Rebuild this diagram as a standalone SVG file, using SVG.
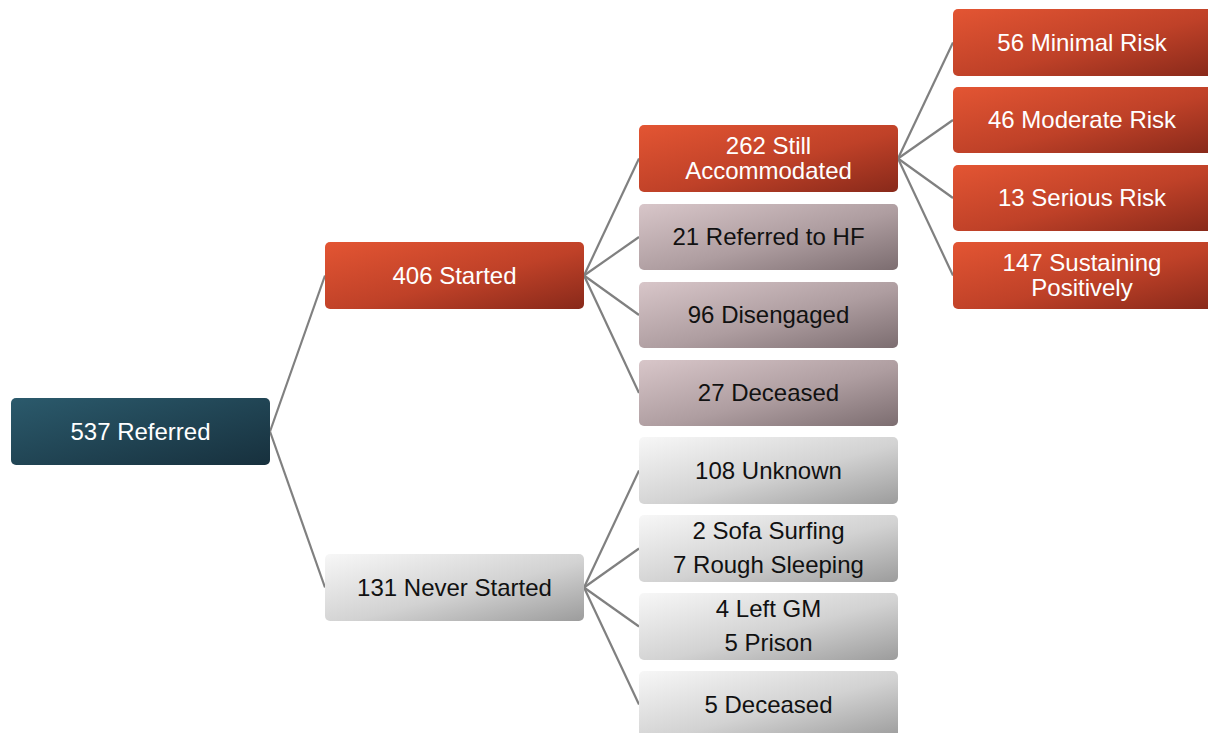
<svg xmlns="http://www.w3.org/2000/svg" width="1208" height="733" viewBox="0 0 1208 733">
  <defs>
    <linearGradient id="gTeal" x1="0" y1="0" x2="1" y2="1">
      <stop offset="0" stop-color="#2B5A6C"/>
      <stop offset="1" stop-color="#17303D"/>
    </linearGradient>
    <linearGradient id="gOrange" x1="0" y1="0" x2="1" y2="1">
      <stop offset="0" stop-color="#E35533"/>
      <stop offset="0.55" stop-color="#BF4128"/>
      <stop offset="1" stop-color="#88291A"/>
    </linearGradient>
    <linearGradient id="gMauve" x1="0" y1="0" x2="1" y2="1">
      <stop offset="0" stop-color="#D8C6C9"/>
      <stop offset="0.55" stop-color="#AE9DA0"/>
      <stop offset="1" stop-color="#7C6D70"/>
    </linearGradient>
    <linearGradient id="gGrey" x1="0" y1="0" x2="1" y2="1">
      <stop offset="0" stop-color="#F7F7F7"/>
      <stop offset="0.55" stop-color="#D2D2D2"/>
      <stop offset="1" stop-color="#9C9C9C"/>
    </linearGradient>
  </defs>
  <style>
    .box { stroke: none; }
    .teal { fill: url(#gTeal); }
    .orange { fill: url(#gOrange); }
    .mauve { fill: url(#gMauve); }
    .grey { fill: url(#gGrey); }
    text { font-family: "Liberation Sans", Arial, sans-serif; font-size: 24px; text-anchor: middle; }
    .light { fill: #FFFFFF; }
    .dark { fill: #111111; }
    .link { stroke: #808080; stroke-width: 2.2; fill: none; }
  </style>

  <g id="connectors">
    <!-- 537 Referred -> level 2 -->
    <line class="link" x1="270" y1="431.5" x2="325" y2="275.5"/>
    <line class="link" x1="270" y1="431.5" x2="325" y2="587.5"/>
    <!-- 406 Started -> outcomes -->
    <line class="link" x1="584" y1="275.5" x2="639" y2="158.5"/>
    <line class="link" x1="584" y1="275.5" x2="639" y2="237"/>
    <line class="link" x1="584" y1="275.5" x2="639" y2="315"/>
    <line class="link" x1="584" y1="275.5" x2="639" y2="393"/>
    <!-- 131 Never Started -> outcomes -->
    <line class="link" x1="584" y1="587.5" x2="639" y2="470.5"/>
    <line class="link" x1="584" y1="587.5" x2="639" y2="548.5"/>
    <line class="link" x1="584" y1="587.5" x2="639" y2="626.5"/>
    <line class="link" x1="584" y1="587.5" x2="639" y2="704.5"/>
    <!-- 262 Still Accommodated -> risk levels -->
    <line class="link" x1="898" y1="158.5" x2="953" y2="42.5"/>
    <line class="link" x1="898" y1="158.5" x2="953" y2="120"/>
    <line class="link" x1="898" y1="158.5" x2="953" y2="198"/>
    <line class="link" x1="898" y1="158.5" x2="953" y2="275.5"/>
  </g>

  <g id="n537">
    <rect class="box teal" x="11" y="398" width="259" height="67" rx="5"/>
    <text class="light" x="140.5" y="440">537 Referred</text>
  </g>

  <g id="n406">
    <rect class="box orange" x="325" y="242" width="259" height="67" rx="5"/>
    <text class="light" x="454.5" y="284">406 Started</text>
  </g>
  <g id="n131">
    <rect class="box grey" x="325" y="554" width="259" height="67" rx="5"/>
    <text class="dark" x="454.5" y="596">131 Never Started</text>
  </g>

  <g id="n262">
    <rect class="box orange" x="639" y="125" width="259" height="67" rx="5"/>
    <text class="light" x="768.5" y="154">262 Still</text>
    <text class="light" x="768.5" y="179">Accommodated</text>
  </g>
  <g id="n21">
    <rect class="box mauve" x="639" y="204" width="259" height="66" rx="5"/>
    <text class="dark" x="768.5" y="245">21 Referred to HF</text>
  </g>
  <g id="n96">
    <rect class="box mauve" x="639" y="282" width="259" height="66" rx="5"/>
    <text class="dark" x="768.5" y="323">96 Disengaged</text>
  </g>
  <g id="n27">
    <rect class="box mauve" x="639" y="360" width="259" height="66" rx="5"/>
    <text class="dark" x="768.5" y="401">27 Deceased</text>
  </g>

  <g id="n108">
    <rect class="box grey" x="639" y="437" width="259" height="67" rx="5"/>
    <text class="dark" x="768.5" y="478.5">108 Unknown</text>
  </g>
  <g id="n9">
    <rect class="box grey" x="639" y="515" width="259" height="67" rx="5"/>
    <text class="dark" x="768.5" y="539">2 Sofa Surfing</text>
    <text class="dark" x="768.5" y="573">7 Rough Sleeping</text>
  </g>
  <g id="n9b">
    <rect class="box grey" x="639" y="593" width="259" height="67" rx="5"/>
    <text class="dark" x="768.5" y="617">4 Left GM</text>
    <text class="dark" x="768.5" y="651">5 Prison</text>
  </g>
  <g id="n5">
    <rect class="box grey" x="639" y="671" width="259" height="67" rx="5"/>
    <text class="dark" x="768.5" y="712.5">5 Deceased</text>
  </g>

  <g id="n56">
    <rect class="box orange" x="953" y="9" width="259" height="67" rx="5"/>
    <text class="light" x="1082" y="50.5">56 Minimal Risk</text>
  </g>
  <g id="n46">
    <rect class="box orange" x="953" y="87" width="259" height="66" rx="5"/>
    <text class="light" x="1082" y="128">46 Moderate Risk</text>
  </g>
  <g id="n13">
    <rect class="box orange" x="953" y="165" width="259" height="66" rx="5"/>
    <text class="light" x="1082" y="206">13 Serious Risk</text>
  </g>
  <g id="n147">
    <rect class="box orange" x="953" y="242" width="259" height="67" rx="5"/>
    <text class="light" x="1082" y="271">147 Sustaining</text>
    <text class="light" x="1082" y="296">Positively</text>
  </g>
</svg>
